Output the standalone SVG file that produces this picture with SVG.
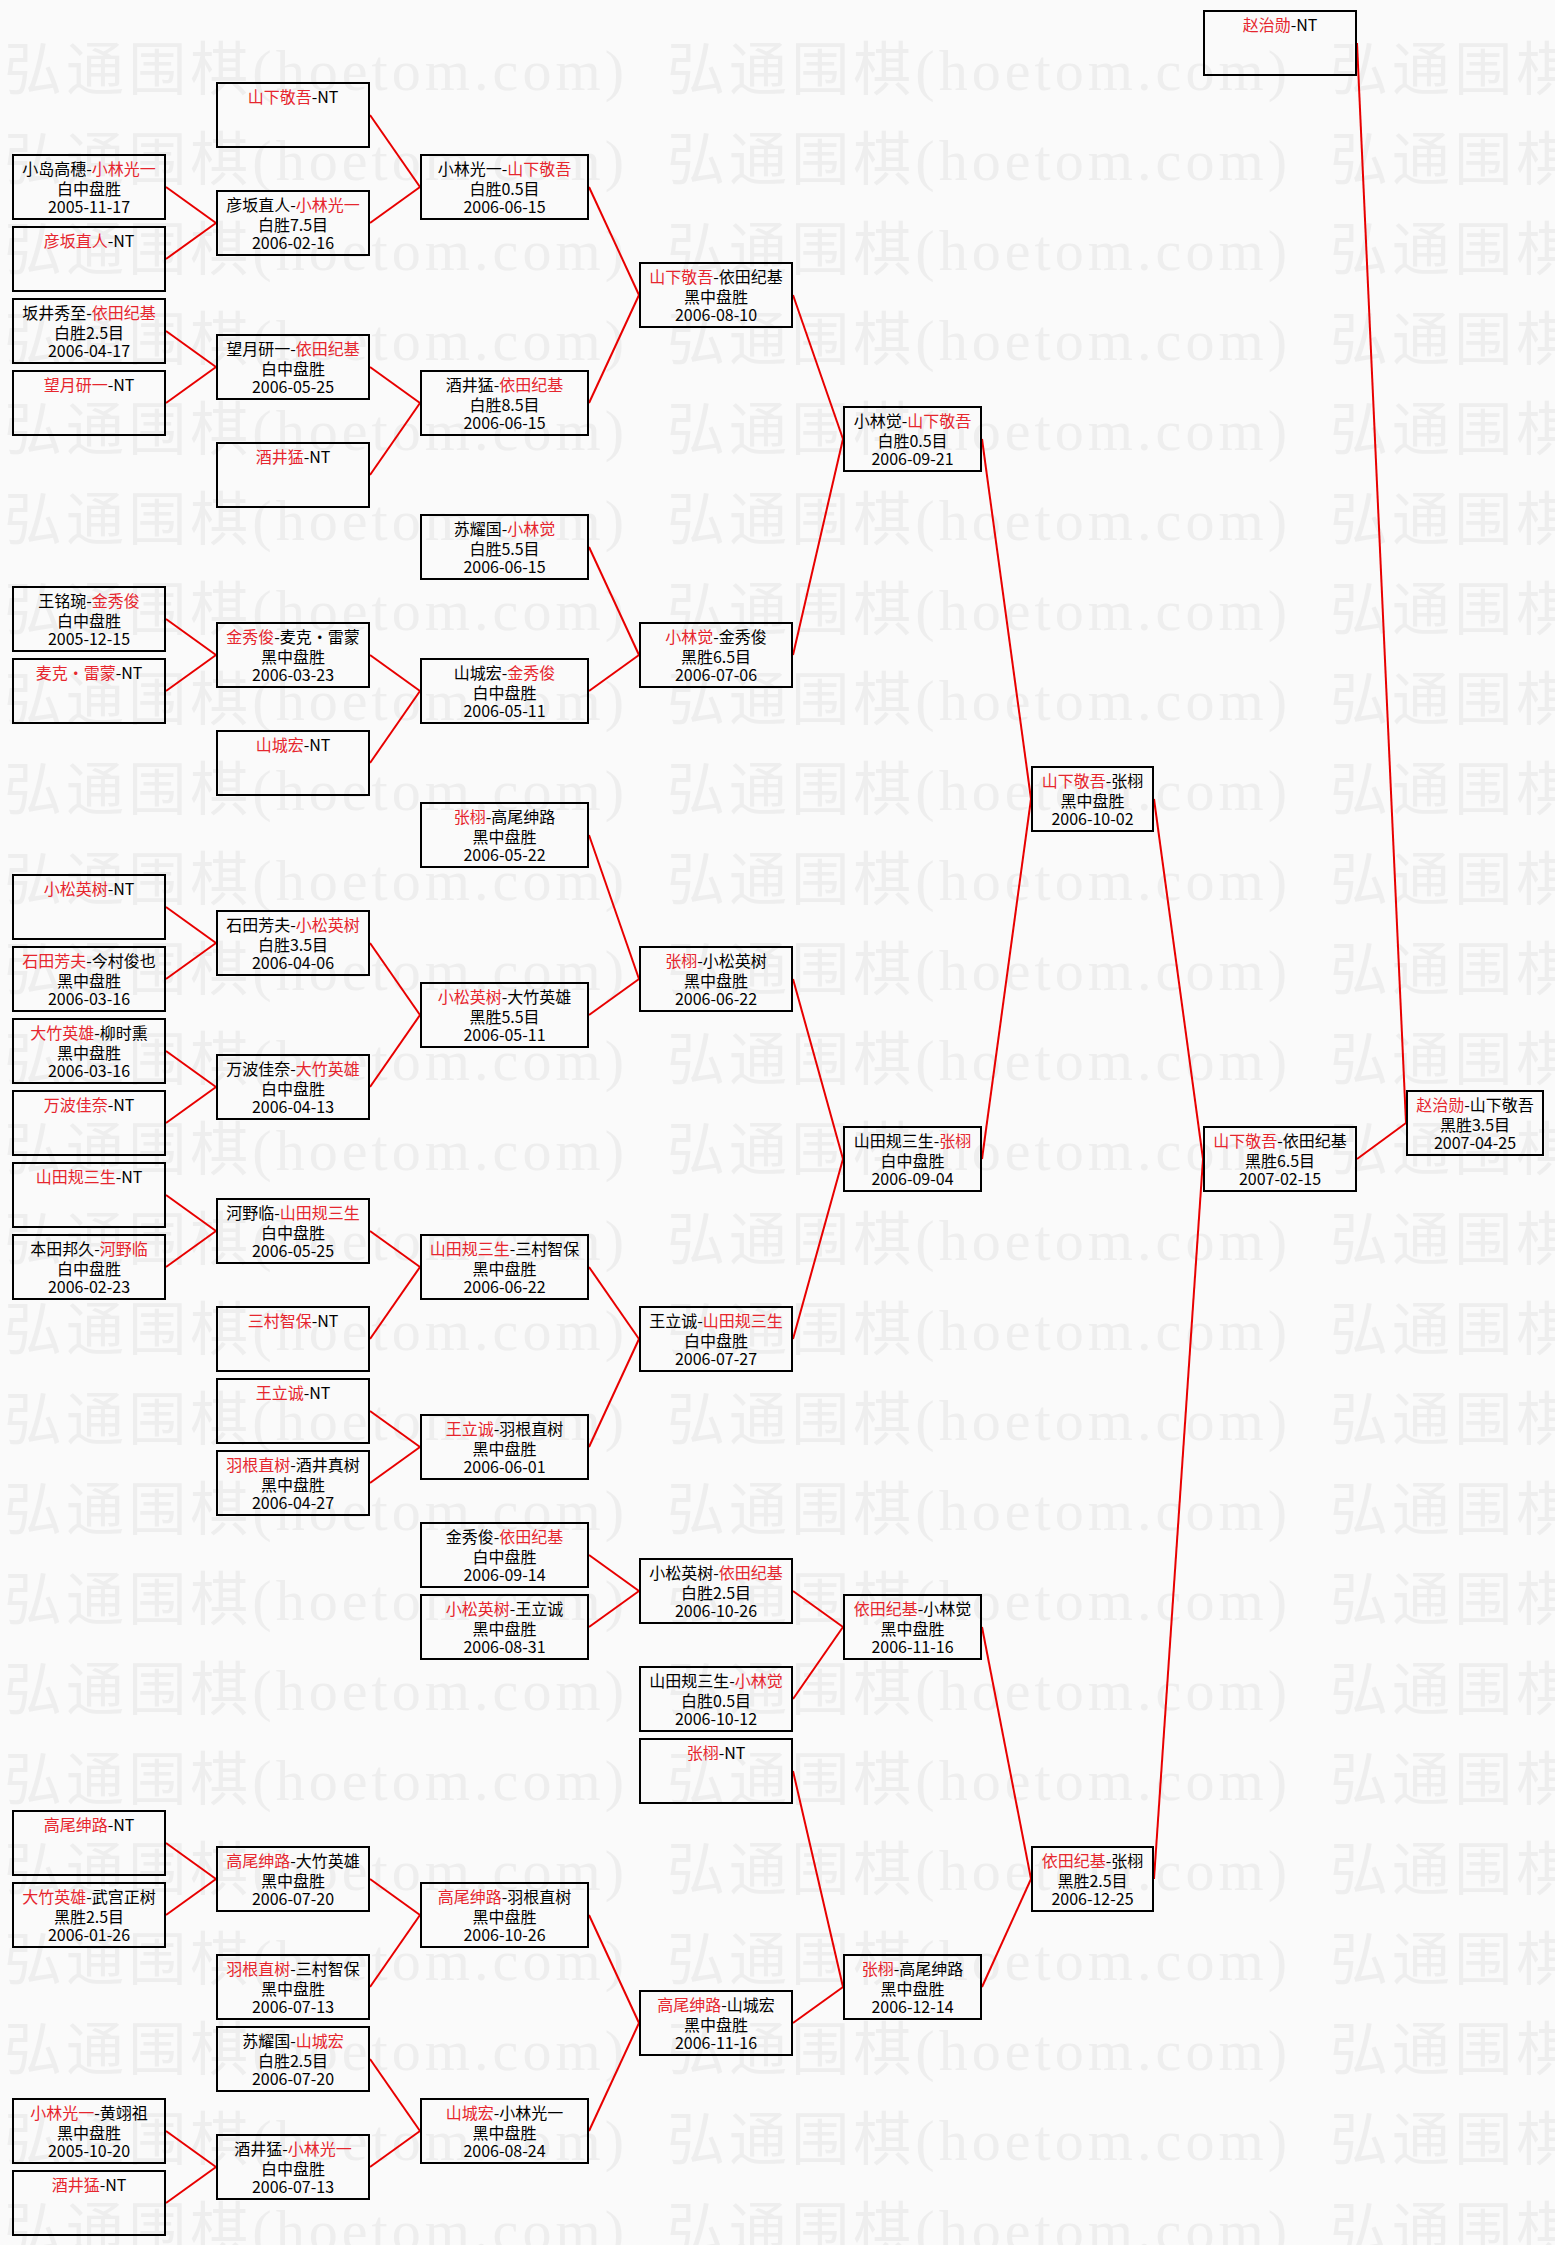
<svg xmlns="http://www.w3.org/2000/svg" xmlns:xlink="http://www.w3.org/1999/xlink" width="1555" height="2245" viewBox="0 0 1555 2245">
<style>
.wm{font-family:"Liberation Serif","Noto Sans CJK SC",serif;font-size:58px;fill:#eeeeee}
.b{fill:none;stroke:#000;stroke-width:2}
.t{font-family:"Noto Sans CJK SC","Liberation Sans",sans-serif;font-size:16px;fill:#000;text-anchor:middle}
.r{fill:#e6262e}
#connectors line{stroke:#e80000;stroke-width:2}
</style>
<defs>
<text id="wm" class="wm" textLength="620" lengthAdjust="spacing">弘通围棋(hoetom.com)</text>
<g id="wmrow"><use xlink:href="#wm" x="4"/><use xlink:href="#wm" x="667"/><use xlink:href="#wm" x="1330"/></g>
</defs>
<rect width="1555" height="2245" fill="#fafafa"/>
<g id="watermark">
<use xlink:href="#wmrow" y="90"/><use xlink:href="#wmrow" y="180"/><use xlink:href="#wmrow" y="270"/><use xlink:href="#wmrow" y="360"/><use xlink:href="#wmrow" y="450"/>
<use xlink:href="#wmrow" y="540"/><use xlink:href="#wmrow" y="630"/><use xlink:href="#wmrow" y="720"/><use xlink:href="#wmrow" y="810"/><use xlink:href="#wmrow" y="900"/>
<use xlink:href="#wmrow" y="990"/><use xlink:href="#wmrow" y="1080"/><use xlink:href="#wmrow" y="1170"/><use xlink:href="#wmrow" y="1260"/><use xlink:href="#wmrow" y="1350"/>
<use xlink:href="#wmrow" y="1440"/><use xlink:href="#wmrow" y="1530"/><use xlink:href="#wmrow" y="1620"/><use xlink:href="#wmrow" y="1710"/><use xlink:href="#wmrow" y="1800"/>
<use xlink:href="#wmrow" y="1890"/><use xlink:href="#wmrow" y="1980"/><use xlink:href="#wmrow" y="2070"/><use xlink:href="#wmrow" y="2160"/><use xlink:href="#wmrow" y="2250"/>
</g>
<g id="connectors">
<line x1="166" y1="187" x2="216" y2="223"/><line x1="166" y1="259" x2="216" y2="223"/>
<line x1="166" y1="331" x2="216" y2="367"/><line x1="166" y1="403" x2="216" y2="367"/>
<line x1="166" y1="619" x2="216" y2="655"/><line x1="166" y1="691" x2="216" y2="655"/>
<line x1="166" y1="907" x2="216" y2="943"/><line x1="166" y1="979" x2="216" y2="943"/>
<line x1="166" y1="1051" x2="216" y2="1087"/><line x1="166" y1="1123" x2="216" y2="1087"/>
<line x1="166" y1="1195" x2="216" y2="1231"/><line x1="166" y1="1267" x2="216" y2="1231"/>
<line x1="166" y1="1843" x2="216" y2="1879"/><line x1="166" y1="1915" x2="216" y2="1879"/>
<line x1="166" y1="2131" x2="216" y2="2167"/><line x1="166" y1="2203" x2="216" y2="2167"/>
<line x1="370" y1="115" x2="420" y2="187"/><line x1="370" y1="223" x2="420" y2="187"/>
<line x1="370" y1="367" x2="420" y2="403"/><line x1="370" y1="475" x2="420" y2="403"/>
<line x1="370" y1="655" x2="420" y2="691"/><line x1="370" y1="763" x2="420" y2="691"/>
<line x1="370" y1="943" x2="420" y2="1015"/><line x1="370" y1="1087" x2="420" y2="1015"/>
<line x1="370" y1="1231" x2="420" y2="1267"/><line x1="370" y1="1339" x2="420" y2="1267"/>
<line x1="370" y1="1411" x2="420" y2="1447"/><line x1="370" y1="1483" x2="420" y2="1447"/>
<line x1="370" y1="1879" x2="420" y2="1915"/><line x1="370" y1="1987" x2="420" y2="1915"/>
<line x1="370" y1="2059" x2="420" y2="2131"/><line x1="370" y1="2167" x2="420" y2="2131"/>
<line x1="589" y1="187" x2="639" y2="295"/><line x1="589" y1="403" x2="639" y2="295"/>
<line x1="589" y1="547" x2="639" y2="655"/><line x1="589" y1="691" x2="639" y2="655"/>
<line x1="589" y1="835" x2="639" y2="979"/><line x1="589" y1="1015" x2="639" y2="979"/>
<line x1="589" y1="1267" x2="639" y2="1339"/><line x1="589" y1="1447" x2="639" y2="1339"/>
<line x1="589" y1="1555" x2="639" y2="1591"/><line x1="589" y1="1627" x2="639" y2="1591"/>
<line x1="589" y1="1915" x2="639" y2="2023"/><line x1="589" y1="2131" x2="639" y2="2023"/>
<line x1="793" y1="295" x2="843" y2="439"/><line x1="793" y1="655" x2="843" y2="439"/>
<line x1="793" y1="979" x2="843" y2="1159"/><line x1="793" y1="1339" x2="843" y2="1159"/>
<line x1="793" y1="1591" x2="843" y2="1627"/><line x1="793" y1="1699" x2="843" y2="1627"/>
<line x1="793" y1="1771" x2="843" y2="1987"/><line x1="793" y1="2023" x2="843" y2="1987"/>
<line x1="982" y1="439" x2="1031" y2="799"/><line x1="982" y1="1159" x2="1031" y2="799"/>
<line x1="982" y1="1627" x2="1031" y2="1879"/><line x1="982" y1="1987" x2="1031" y2="1879"/>
<line x1="1154" y1="799" x2="1203" y2="1159"/><line x1="1154" y1="1879" x2="1203" y2="1159"/>
<line x1="1357" y1="43" x2="1406" y2="1123"/><line x1="1357" y1="1159" x2="1406" y2="1123"/>
</g>
<g id="c1r2" transform="translate(12,154)"><rect class="b" x="1" y="1" width="152" height="64"/><text class="t" x="77" y="21">小岛高穗-<tspan class="r">小林光一</tspan></text><text class="t" x="77" y="40.5">白中盘胜</text><text class="t" x="77" y="59">2005-11-17</text></g>
<g id="c1r3" transform="translate(12,226)"><rect class="b" x="1" y="1" width="152" height="64"/><text class="t" x="77" y="21"><tspan class="r">彦坂直人</tspan>-NT</text></g>
<g id="c1r4" transform="translate(12,298)"><rect class="b" x="1" y="1" width="152" height="64"/><text class="t" x="77" y="21">坂井秀至-<tspan class="r">依田纪基</tspan></text><text class="t" x="77" y="40.5">白胜2.5目</text><text class="t" x="77" y="59">2006-04-17</text></g>
<g id="c1r5" transform="translate(12,370)"><rect class="b" x="1" y="1" width="152" height="64"/><text class="t" x="77" y="21"><tspan class="r">望月研一</tspan>-NT</text></g>
<g id="c1r8" transform="translate(12,586)"><rect class="b" x="1" y="1" width="152" height="64"/><text class="t" x="77" y="21">王铭琬-<tspan class="r">金秀俊</tspan></text><text class="t" x="77" y="40.5">白中盘胜</text><text class="t" x="77" y="59">2005-12-15</text></g>
<g id="c1r9" transform="translate(12,658)"><rect class="b" x="1" y="1" width="152" height="64"/><text class="t" x="77" y="21"><tspan class="r">麦克·雷蒙</tspan>-NT</text></g>
<g id="c1r12" transform="translate(12,874)"><rect class="b" x="1" y="1" width="152" height="64"/><text class="t" x="77" y="21"><tspan class="r">小松英树</tspan>-NT</text></g>
<g id="c1r13" transform="translate(12,946)"><rect class="b" x="1" y="1" width="152" height="64"/><text class="t" x="77" y="21"><tspan class="r">石田芳夫</tspan>-今村俊也</text><text class="t" x="77" y="40.5">黑中盘胜</text><text class="t" x="77" y="59">2006-03-16</text></g>
<g id="c1r14" transform="translate(12,1018)"><rect class="b" x="1" y="1" width="152" height="64"/><text class="t" x="77" y="21"><tspan class="r">大竹英雄</tspan>-柳时熏</text><text class="t" x="77" y="40.5">黑中盘胜</text><text class="t" x="77" y="59">2006-03-16</text></g>
<g id="c1r15" transform="translate(12,1090)"><rect class="b" x="1" y="1" width="152" height="64"/><text class="t" x="77" y="21"><tspan class="r">万波佳奈</tspan>-NT</text></g>
<g id="c1r16" transform="translate(12,1162)"><rect class="b" x="1" y="1" width="152" height="64"/><text class="t" x="77" y="21"><tspan class="r">山田规三生</tspan>-NT</text></g>
<g id="c1r17" transform="translate(12,1234)"><rect class="b" x="1" y="1" width="152" height="64"/><text class="t" x="77" y="21">本田邦久-<tspan class="r">河野临</tspan></text><text class="t" x="77" y="40.5">白中盘胜</text><text class="t" x="77" y="59">2006-02-23</text></g>
<g id="c1r25" transform="translate(12,1810)"><rect class="b" x="1" y="1" width="152" height="64"/><text class="t" x="77" y="21"><tspan class="r">高尾绅路</tspan>-NT</text></g>
<g id="c1r26" transform="translate(12,1882)"><rect class="b" x="1" y="1" width="152" height="64"/><text class="t" x="77" y="21"><tspan class="r">大竹英雄</tspan>-武宫正树</text><text class="t" x="77" y="40.5">黑胜2.5目</text><text class="t" x="77" y="59">2006-01-26</text></g>
<g id="c1r29" transform="translate(12,2098)"><rect class="b" x="1" y="1" width="152" height="64"/><text class="t" x="77" y="21"><tspan class="r">小林光一</tspan>-黄翊祖</text><text class="t" x="77" y="40.5">黑中盘胜</text><text class="t" x="77" y="59">2005-10-20</text></g>
<g id="c1r30" transform="translate(12,2170)"><rect class="b" x="1" y="1" width="152" height="64"/><text class="t" x="77" y="21"><tspan class="r">酒井猛</tspan>-NT</text></g>
<g id="c2r1" transform="translate(216,82)"><rect class="b" x="1" y="1" width="152" height="64"/><text class="t" x="77" y="21"><tspan class="r">山下敬吾</tspan>-NT</text></g>
<g id="c2r2h" transform="translate(216,190)"><rect class="b" x="1" y="1" width="152" height="64"/><text class="t" x="77" y="21">彦坂直人-<tspan class="r">小林光一</tspan></text><text class="t" x="77" y="40.5">白胜7.5目</text><text class="t" x="77" y="59">2006-02-16</text></g>
<g id="c2r4h" transform="translate(216,334)"><rect class="b" x="1" y="1" width="152" height="64"/><text class="t" x="77" y="21">望月研一-<tspan class="r">依田纪基</tspan></text><text class="t" x="77" y="40.5">白中盘胜</text><text class="t" x="77" y="59">2006-05-25</text></g>
<g id="c2r6" transform="translate(216,442)"><rect class="b" x="1" y="1" width="152" height="64"/><text class="t" x="77" y="21"><tspan class="r">酒井猛</tspan>-NT</text></g>
<g id="c2r8h" transform="translate(216,622)"><rect class="b" x="1" y="1" width="152" height="64"/><text class="t" x="77" y="21"><tspan class="r">金秀俊</tspan>-麦克·雷蒙</text><text class="t" x="77" y="40.5">黑中盘胜</text><text class="t" x="77" y="59">2006-03-23</text></g>
<g id="c2r10" transform="translate(216,730)"><rect class="b" x="1" y="1" width="152" height="64"/><text class="t" x="77" y="21"><tspan class="r">山城宏</tspan>-NT</text></g>
<g id="c2r12h" transform="translate(216,910)"><rect class="b" x="1" y="1" width="152" height="64"/><text class="t" x="77" y="21">石田芳夫-<tspan class="r">小松英树</tspan></text><text class="t" x="77" y="40.5">白胜3.5目</text><text class="t" x="77" y="59">2006-04-06</text></g>
<g id="c2r14h" transform="translate(216,1054)"><rect class="b" x="1" y="1" width="152" height="64"/><text class="t" x="77" y="21">万波佳奈-<tspan class="r">大竹英雄</tspan></text><text class="t" x="77" y="40.5">白中盘胜</text><text class="t" x="77" y="59">2006-04-13</text></g>
<g id="c2r16h" transform="translate(216,1198)"><rect class="b" x="1" y="1" width="152" height="64"/><text class="t" x="77" y="21">河野临-<tspan class="r">山田规三生</tspan></text><text class="t" x="77" y="40.5">白中盘胜</text><text class="t" x="77" y="59">2006-05-25</text></g>
<g id="c2r18" transform="translate(216,1306)"><rect class="b" x="1" y="1" width="152" height="64"/><text class="t" x="77" y="21"><tspan class="r">三村智保</tspan>-NT</text></g>
<g id="c2r19" transform="translate(216,1378)"><rect class="b" x="1" y="1" width="152" height="64"/><text class="t" x="77" y="21"><tspan class="r">王立诚</tspan>-NT</text></g>
<g id="c2r20" transform="translate(216,1450)"><rect class="b" x="1" y="1" width="152" height="64"/><text class="t" x="77" y="21"><tspan class="r">羽根直树</tspan>-酒井真树</text><text class="t" x="77" y="40.5">黑中盘胜</text><text class="t" x="77" y="59">2006-04-27</text></g>
<g id="c2r25h" transform="translate(216,1846)"><rect class="b" x="1" y="1" width="152" height="64"/><text class="t" x="77" y="21"><tspan class="r">高尾绅路</tspan>-大竹英雄</text><text class="t" x="77" y="40.5">黑中盘胜</text><text class="t" x="77" y="59">2006-07-20</text></g>
<g id="c2r27" transform="translate(216,1954)"><rect class="b" x="1" y="1" width="152" height="64"/><text class="t" x="77" y="21"><tspan class="r">羽根直树</tspan>-三村智保</text><text class="t" x="77" y="40.5">黑中盘胜</text><text class="t" x="77" y="59">2006-07-13</text></g>
<g id="c2r28" transform="translate(216,2026)"><rect class="b" x="1" y="1" width="152" height="64"/><text class="t" x="77" y="21">苏耀国-<tspan class="r">山城宏</tspan></text><text class="t" x="77" y="40.5">白胜2.5目</text><text class="t" x="77" y="59">2006-07-20</text></g>
<g id="c2r29h" transform="translate(216,2134)"><rect class="b" x="1" y="1" width="152" height="64"/><text class="t" x="77" y="21">酒井猛-<tspan class="r">小林光一</tspan></text><text class="t" x="77" y="40.5">白中盘胜</text><text class="t" x="77" y="59">2006-07-13</text></g>
<g id="c3r2" transform="translate(420,154)"><rect class="b" x="1" y="1" width="167" height="64"/><text class="t" x="84.5" y="21">小林光一-<tspan class="r">山下敬吾</tspan></text><text class="t" x="84.5" y="40.5">白胜0.5目</text><text class="t" x="84.5" y="59">2006-06-15</text></g>
<g id="c3r5" transform="translate(420,370)"><rect class="b" x="1" y="1" width="167" height="64"/><text class="t" x="84.5" y="21">酒井猛-<tspan class="r">依田纪基</tspan></text><text class="t" x="84.5" y="40.5">白胜8.5目</text><text class="t" x="84.5" y="59">2006-06-15</text></g>
<g id="c3r7" transform="translate(420,514)"><rect class="b" x="1" y="1" width="167" height="64"/><text class="t" x="84.5" y="21">苏耀国-<tspan class="r">小林觉</tspan></text><text class="t" x="84.5" y="40.5">白胜5.5目</text><text class="t" x="84.5" y="59">2006-06-15</text></g>
<g id="c3r9" transform="translate(420,658)"><rect class="b" x="1" y="1" width="167" height="64"/><text class="t" x="84.5" y="21">山城宏-<tspan class="r">金秀俊</tspan></text><text class="t" x="84.5" y="40.5">白中盘胜</text><text class="t" x="84.5" y="59">2006-05-11</text></g>
<g id="c3r11" transform="translate(420,802)"><rect class="b" x="1" y="1" width="167" height="64"/><text class="t" x="84.5" y="21"><tspan class="r">张栩</tspan>-高尾绅路</text><text class="t" x="84.5" y="40.5">黑中盘胜</text><text class="t" x="84.5" y="59">2006-05-22</text></g>
<g id="c3r13h" transform="translate(420,982)"><rect class="b" x="1" y="1" width="167" height="64"/><text class="t" x="84.5" y="21"><tspan class="r">小松英树</tspan>-大竹英雄</text><text class="t" x="84.5" y="40.5">黑胜5.5目</text><text class="t" x="84.5" y="59">2006-05-11</text></g>
<g id="c3r17" transform="translate(420,1234)"><rect class="b" x="1" y="1" width="167" height="64"/><text class="t" x="84.5" y="21"><tspan class="r">山田规三生</tspan>-三村智保</text><text class="t" x="84.5" y="40.5">黑中盘胜</text><text class="t" x="84.5" y="59">2006-06-22</text></g>
<g id="c3r19h" transform="translate(420,1414)"><rect class="b" x="1" y="1" width="167" height="64"/><text class="t" x="84.5" y="21"><tspan class="r">王立诚</tspan>-羽根直树</text><text class="t" x="84.5" y="40.5">黑中盘胜</text><text class="t" x="84.5" y="59">2006-06-01</text></g>
<g id="c3r21" transform="translate(420,1522)"><rect class="b" x="1" y="1" width="167" height="64"/><text class="t" x="84.5" y="21">金秀俊-<tspan class="r">依田纪基</tspan></text><text class="t" x="84.5" y="40.5">白中盘胜</text><text class="t" x="84.5" y="59">2006-09-14</text></g>
<g id="c3r22" transform="translate(420,1594)"><rect class="b" x="1" y="1" width="167" height="64"/><text class="t" x="84.5" y="21"><tspan class="r">小松英树</tspan>-王立诚</text><text class="t" x="84.5" y="40.5">黑中盘胜</text><text class="t" x="84.5" y="59">2006-08-31</text></g>
<g id="c3r26" transform="translate(420,1882)"><rect class="b" x="1" y="1" width="167" height="64"/><text class="t" x="84.5" y="21"><tspan class="r">高尾绅路</tspan>-羽根直树</text><text class="t" x="84.5" y="40.5">黑中盘胜</text><text class="t" x="84.5" y="59">2006-10-26</text></g>
<g id="c3r29" transform="translate(420,2098)"><rect class="b" x="1" y="1" width="167" height="64"/><text class="t" x="84.5" y="21"><tspan class="r">山城宏</tspan>-小林光一</text><text class="t" x="84.5" y="40.5">黑中盘胜</text><text class="t" x="84.5" y="59">2006-08-24</text></g>
<g id="c4r3h" transform="translate(639,262)"><rect class="b" x="1" y="1" width="152" height="64"/><text class="t" x="77" y="21"><tspan class="r">山下敬吾</tspan>-依田纪基</text><text class="t" x="77" y="40.5">黑中盘胜</text><text class="t" x="77" y="59">2006-08-10</text></g>
<g id="c4r8h" transform="translate(639,622)"><rect class="b" x="1" y="1" width="152" height="64"/><text class="t" x="77" y="21"><tspan class="r">小林觉</tspan>-金秀俊</text><text class="t" x="77" y="40.5">黑胜6.5目</text><text class="t" x="77" y="59">2006-07-06</text></g>
<g id="c4r13" transform="translate(639,946)"><rect class="b" x="1" y="1" width="152" height="64"/><text class="t" x="77" y="21"><tspan class="r">张栩</tspan>-小松英树</text><text class="t" x="77" y="40.5">黑中盘胜</text><text class="t" x="77" y="59">2006-06-22</text></g>
<g id="c4r18" transform="translate(639,1306)"><rect class="b" x="1" y="1" width="152" height="64"/><text class="t" x="77" y="21">王立诚-<tspan class="r">山田规三生</tspan></text><text class="t" x="77" y="40.5">白中盘胜</text><text class="t" x="77" y="59">2006-07-27</text></g>
<g id="c4r21h" transform="translate(639,1558)"><rect class="b" x="1" y="1" width="152" height="64"/><text class="t" x="77" y="21">小松英树-<tspan class="r">依田纪基</tspan></text><text class="t" x="77" y="40.5">白胜2.5目</text><text class="t" x="77" y="59">2006-10-26</text></g>
<g id="c4r23" transform="translate(639,1666)"><rect class="b" x="1" y="1" width="152" height="64"/><text class="t" x="77" y="21">山田规三生-<tspan class="r">小林觉</tspan></text><text class="t" x="77" y="40.5">白胜0.5目</text><text class="t" x="77" y="59">2006-10-12</text></g>
<g id="c4r24" transform="translate(639,1738)"><rect class="b" x="1" y="1" width="152" height="64"/><text class="t" x="77" y="21"><tspan class="r">张栩</tspan>-NT</text></g>
<g id="c4r27h" transform="translate(639,1990)"><rect class="b" x="1" y="1" width="152" height="64"/><text class="t" x="77" y="21"><tspan class="r">高尾绅路</tspan>-山城宏</text><text class="t" x="77" y="40.5">黑中盘胜</text><text class="t" x="77" y="59">2006-11-16</text></g>
<g id="c5r5h" transform="translate(843,406)"><rect class="b" x="1" y="1" width="137" height="64"/><text class="t" x="69.5" y="21">小林觉-<tspan class="r">山下敬吾</tspan></text><text class="t" x="69.5" y="40.5">白胜0.5目</text><text class="t" x="69.5" y="59">2006-09-21</text></g>
<g id="c5r15h" transform="translate(843,1126)"><rect class="b" x="1" y="1" width="137" height="64"/><text class="t" x="69.5" y="21">山田规三生-<tspan class="r">张栩</tspan></text><text class="t" x="69.5" y="40.5">白中盘胜</text><text class="t" x="69.5" y="59">2006-09-04</text></g>
<g id="c5r22" transform="translate(843,1594)"><rect class="b" x="1" y="1" width="137" height="64"/><text class="t" x="69.5" y="21"><tspan class="r">依田纪基</tspan>-小林觉</text><text class="t" x="69.5" y="40.5">黑中盘胜</text><text class="t" x="69.5" y="59">2006-11-16</text></g>
<g id="c5r27" transform="translate(843,1954)"><rect class="b" x="1" y="1" width="137" height="64"/><text class="t" x="69.5" y="21"><tspan class="r">张栩</tspan>-高尾绅路</text><text class="t" x="69.5" y="40.5">黑中盘胜</text><text class="t" x="69.5" y="59">2006-12-14</text></g>
<g id="c6r10h" transform="translate(1031,766)"><rect class="b" x="1" y="1" width="121" height="64"/><text class="t" x="61.5" y="21"><tspan class="r">山下敬吾</tspan>-张栩</text><text class="t" x="61.5" y="40.5">黑中盘胜</text><text class="t" x="61.5" y="59">2006-10-02</text></g>
<g id="c6r25h" transform="translate(1031,1846)"><rect class="b" x="1" y="1" width="121" height="64"/><text class="t" x="61.5" y="21"><tspan class="r">依田纪基</tspan>-张栩</text><text class="t" x="61.5" y="40.5">黑胜2.5目</text><text class="t" x="61.5" y="59">2006-12-25</text></g>
<g id="c7r0" transform="translate(1203,10)"><rect class="b" x="1" y="1" width="152" height="64"/><text class="t" x="77" y="21"><tspan class="r">赵治勋</tspan>-NT</text></g>
<g id="c7r15h" transform="translate(1203,1126)"><rect class="b" x="1" y="1" width="152" height="64"/><text class="t" x="77" y="21"><tspan class="r">山下敬吾</tspan>-依田纪基</text><text class="t" x="77" y="40.5">黑胜6.5目</text><text class="t" x="77" y="59">2007-02-15</text></g>
<g id="c8r15" transform="translate(1406,1090)"><rect class="b" x="1" y="1" width="136" height="64"/><text class="t" x="69" y="21"><tspan class="r">赵治勋</tspan>-山下敬吾</text><text class="t" x="69" y="40.5">黑胜3.5目</text><text class="t" x="69" y="59">2007-04-25</text></g>
</svg>
